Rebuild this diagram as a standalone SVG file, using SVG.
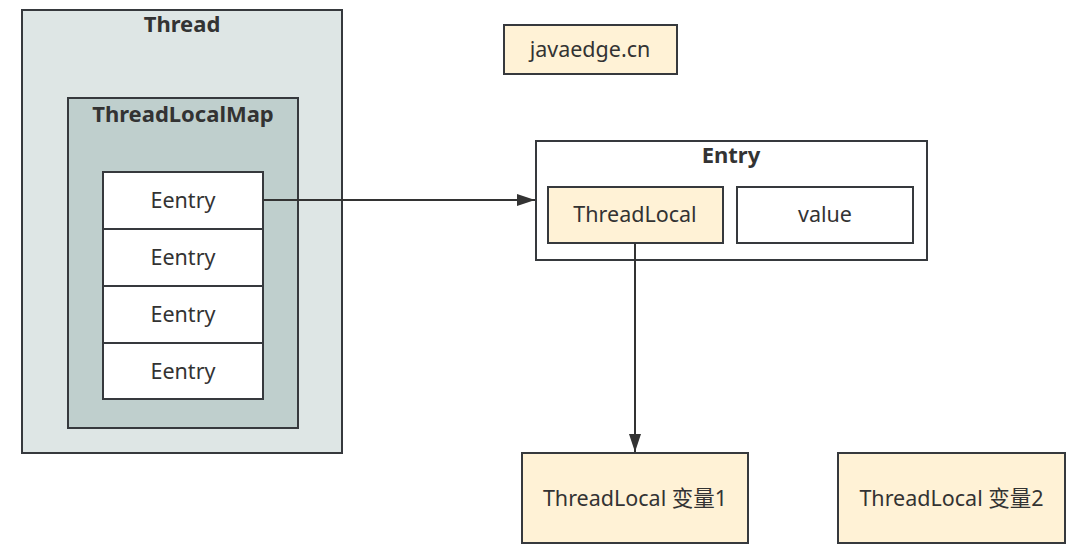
<svg xmlns="http://www.w3.org/2000/svg" width="1083" height="555" viewBox="0 0 1083 555">
<style>
  .box { stroke: #36393d; stroke-width: 2; }
  .t { font-family: "Noto Sans", "Open Sans", "Noto Sans CJK SC", sans-serif; font-size: 21.5px; fill: #333333; text-anchor: middle; }
  .b { font-weight: bold; font-size: 22px; }
  .edge { stroke: #333333; stroke-width: 2; fill: none; }
</style>
<defs>
  <marker id="arr" markerWidth="18" markerHeight="12" refX="18" refY="6" orient="auto" markerUnits="userSpaceOnUse" viewBox="0 0 18 12">
    <path d="M0,0 L18,6 L0,12 Z" fill="#333333"/>
  </marker>
</defs>
<rect width="1083" height="555" fill="#ffffff"/>
<g id="thread">
  <rect class="box" x="22" y="10" width="320" height="443" fill="#dee6e5"/>
  <text class="t b" x="182" y="32">Thread</text>
</g>
<g id="threadlocalmap">
  <rect class="box" x="68" y="98" width="230" height="330" fill="#bfcfcd"/>
  <text class="t b" x="183" y="122">ThreadLocalMap</text>
</g>
<g id="eentry1">
  <rect class="box" x="103" y="172" width="160" height="57" fill="#ffffff"/>
  <text class="t" x="183" y="208">Eentry</text>
</g>
<g id="eentry2">
  <rect class="box" x="103" y="229" width="160" height="57" fill="#ffffff"/>
  <text class="t" x="183" y="265">Eentry</text>
</g>
<g id="eentry3">
  <rect class="box" x="103" y="286" width="160" height="57" fill="#ffffff"/>
  <text class="t" x="183" y="322">Eentry</text>
</g>
<g id="eentry4">
  <rect class="box" x="103" y="343" width="160" height="56" fill="#ffffff"/>
  <text class="t" x="183" y="379">Eentry</text>
</g>
<g id="javaedge">
  <rect class="box" x="504" y="25" width="173" height="49" fill="#fff2d6"/>
  <text class="t" x="590" y="57">javaedge.cn</text>
</g>
<g id="entry">
  <rect class="box" x="536" y="141" width="391" height="119" fill="#ffffff"/>
  <text class="t b" x="731" y="163">Entry</text>
</g>
<g id="threadlocal">
  <rect class="box" x="548" y="187" width="175" height="56" fill="#fff2d6"/>
  <text class="t" x="635" y="222">ThreadLocal</text>
</g>
<g id="value">
  <rect class="box" x="737" y="187" width="176" height="56" fill="#ffffff"/>
  <text class="t" x="825" y="222">value</text>
</g>
<g id="var1">
  <rect class="box" x="522" y="453" width="226" height="90" fill="#fff2d6"/>
  <text class="t" x="635" y="506">ThreadLocal 变量1</text>
</g>
<g id="var2">
  <rect class="box" x="838" y="453" width="227" height="90" fill="#fff2d6"/>
  <text class="t" x="951.5" y="506">ThreadLocal 变量2</text>
</g>
<g id="connectors">
  <path class="edge" d="M263,200 L535,200" marker-end="url(#arr)"/>
  <path class="edge" d="M635,243 L635,452" marker-end="url(#arr)"/>
</g>
</svg>
